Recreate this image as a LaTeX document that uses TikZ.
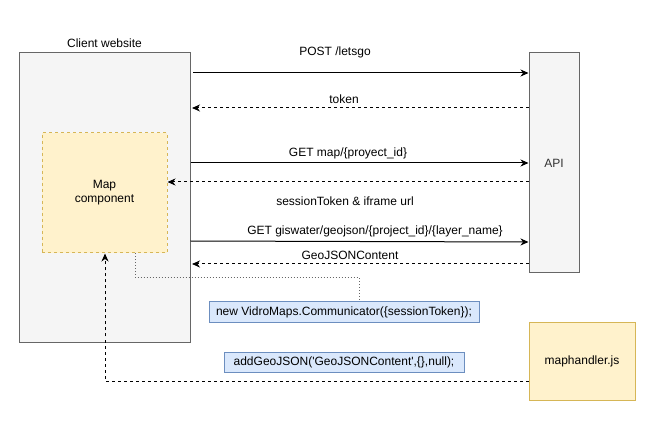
\documentclass[tikz,border=0pt]{standalone}
\usepackage{fontspec}
\setmainfont{Liberation Sans}
\usetikzlibrary{arrows.meta}
\definecolor{greyfill}{HTML}{F5F5F5}
\definecolor{greyline}{HTML}{666666}
\definecolor{yelfill}{HTML}{FFF2CC}
\definecolor{yelline}{HTML}{D6B656}
\definecolor{bluefill}{HTML}{DAE8FC}
\definecolor{blueline}{HTML}{6C8EBF}
\begin{document}
\begin{tikzpicture}[x=1pt,y=-1pt,
  every node/.style={font=\fontsize{12}{14}\selectfont},
  greybox/.style={draw=greyline,fill=greyfill,line width=1pt,inner sep=0pt},
  yelbox/.style={draw=yelline,fill=yelfill,line width=1pt,inner sep=0pt},
  bluebox/.style={draw=blueline,fill=bluefill,line width=1pt,inner sep=0pt},
  lbl/.style={inner sep=0pt},
  arr/.style={line width=1pt,-{Stealth[length=8pt,width=7pt,inset=2.5pt]}},
  dasharr/.style={arr,dash pattern=on 3pt off 3pt},
  dotline/.style={line width=1pt,greyline,dash pattern=on 1pt off 2pt}]
\useasboundingbox (0,0) rectangle (656,430);
\fill[white] (0,0) rectangle (656,430);
% boxes
\node[greybox,minimum width=171pt,minimum height=290pt] (client) at (104.5,198) {};
\node[lbl] (clientlbl) at (104.5,43) {Client website};
\node[yelbox,dash pattern=on 3pt off 3pt,minimum width=125pt,minimum height=120pt,align=center] (map) at (104.5,193) {Map\\component};
\node[greybox,minimum width=50pt,minimum height=220pt,text=black!80] (api) at (554,163) {API};
\node[yelbox,minimum width=106pt,minimum height=77pt] (mh) at (582,361.5) {maphandler.js};
\node[bluebox,minimum width=270pt,minimum height=21pt] (comm) at (344,312.5) {new VidroMaps.Communicator(\{sessionToken\});};
\node[bluebox,minimum width=240pt,minimum height=20pt] (add) at (344,362) {addGeoJSON(\textquotesingle GeoJSONContent\textquotesingle,\{\},null);};
% coordinates
\coordinate (p1) at (193,73);
\coordinate (q1) at (api.west |- 0,73);
\coordinate (p2) at (192,108);
\coordinate (q2) at (api.west |- 0,108);
\coordinate (p3) at (client.east |- 0,163);
\coordinate (q3) at (api.west |- 0,163);
\coordinate (p4) at (map.east |- 0,182);
\coordinate (q4) at (api.west |- 0,182);
\coordinate (p5) at (client.east |- 0,241);
\coordinate (q5) at (api.west |- 0,242);
\coordinate (p6) at (192,264);
\coordinate (q6) at (api.west |- 0,264);
% arrows
\draw[arr] (p1) -- (q1);
\draw[dasharr] (q2) -- (p2);
\draw[arr] (p3) -- (q3);
\draw[dasharr] (q4) -- (p4);
\draw[arr] (p5) -- (q5);
\draw[dasharr] (q6) -- (p6);
% labels
\node[lbl] (l1) at (335,52) {POST /letsgo};
\node[lbl] (l2) at (344,99) {token};
\node[lbl] (l3) at (348,153) {GET map/\{proyect\_id\}};
\node[lbl] (l4) at (345,201) {sessionToken \& iframe url};
\node[lbl] (l5) at (375,231) {GET giswater/geojson/\{project\_id\}/\{layer\_name\}};
\node[lbl] (l6) at (350,255) {GeoJSONContent};
% dotted connector
\coordinate (d1) at (135,278);
\coordinate (d2) at (359,278);
\draw[dotline] (map.south -| d1) -- (d1) -- (d2) -- (comm.north -| d2);
% dashed from maphandler to map component
\coordinate (m1) at (105,381);
\draw[dasharr] (mh.west |- m1) -- (m1) -- (map.south -| m1);
\end{tikzpicture}
\end{document}
